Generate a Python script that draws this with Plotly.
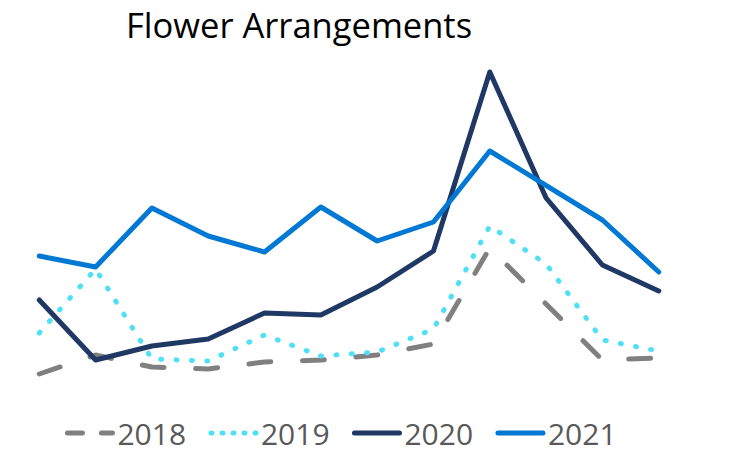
import plotly.graph_objects as go

months = ["Jan", "Feb", "Mar", "Apr", "May", "Jun", "Jul", "Aug", "Sep", "Oct", "Nov", "Dec"]
series_names = ["2018", "2019", "2020", "2021"]
values_2018 = [26, 45, 33, 31, 38, 40, 45, 56, 152, 96, 40, 42]
values_2019 = [67, 131, 41, 39, 65, 44, 48, 71, 174, 136, 60, 49]
values_2020 = [100, 40, 54, 61, 87, 85, 113, 149, 328, 202, 135, 109]
values_2021 = [144, 133, 192, 164, 148, 193, 159, 178, 249, 215, 180, 128]

colors = ["#808080", "#4FE0F7", "#1F3864", "#0078D4"]
dashes = ["22px,31.6px", "1px,14.4px", "solid", "solid"]

fig = go.Figure()
x_idx = list(range(len(months)))
for name, vals, col, dsh in zip(series_names, [values_2018, values_2019, values_2020, values_2021], colors, dashes):
    fig.add_trace(go.Scatter(
        x=x_idx, y=vals, name=name, mode="lines",
        line=dict(color=col, width=5, dash=dsh),
        hoverinfo="skip",
    ))

fig.update_layout(
    width=743, height=453,
    margin=dict(l=28, r=73, t=40, b=53, autoexpand=False),
    paper_bgcolor="white", plot_bgcolor="white",
    title=dict(text="Flower Arrangements", x=126/743, xanchor="left", xref="container",
               y=1 - 25.5/453, yanchor="middle", yref="container",
               font=dict(family="Open Sans", size=34.5, color="#000000")),
    xaxis=dict(visible=False, range=[-0.2, 11.2]),
    yaxis=dict(visible=False, range=[0, 360]),
    showlegend=True,
    legend=dict(orientation="h", x=0.049, xanchor="left", y=-0.092, yanchor="middle",
                font=dict(family="Open Sans", size=30, color="#595959"),
                itemwidth=48, entrywidth=80.5, traceorder="normal"),
)

post = """
document.body.style.margin='0';
var gd = document.getElementById('{plot_id}');
var legDash = ['15px,19px', '1px,10px', '', ''];
function fix(){
  gd.querySelectorAll('path.js-line').forEach(function(p){
    p.style.strokeLinecap='round'; p.style.strokeLinejoin='round';
  });
  gd.querySelectorAll('.legend .traces').forEach(function(t, i){
    var p = t.querySelector('.legendlines path');
    if(p){
      p.setAttribute('d', 'M8,0h45');
      p.style.strokeLinecap='round'; p.style.strokeLinejoin='round';
      if(legDash[i]) p.style.strokeDasharray = legDash[i];
    }
  });
}
fix();
gd.on('plotly_afterplot', fix);
"""
fig.write_html("out.html", post_script=post, config={"displayModeBar": False})
